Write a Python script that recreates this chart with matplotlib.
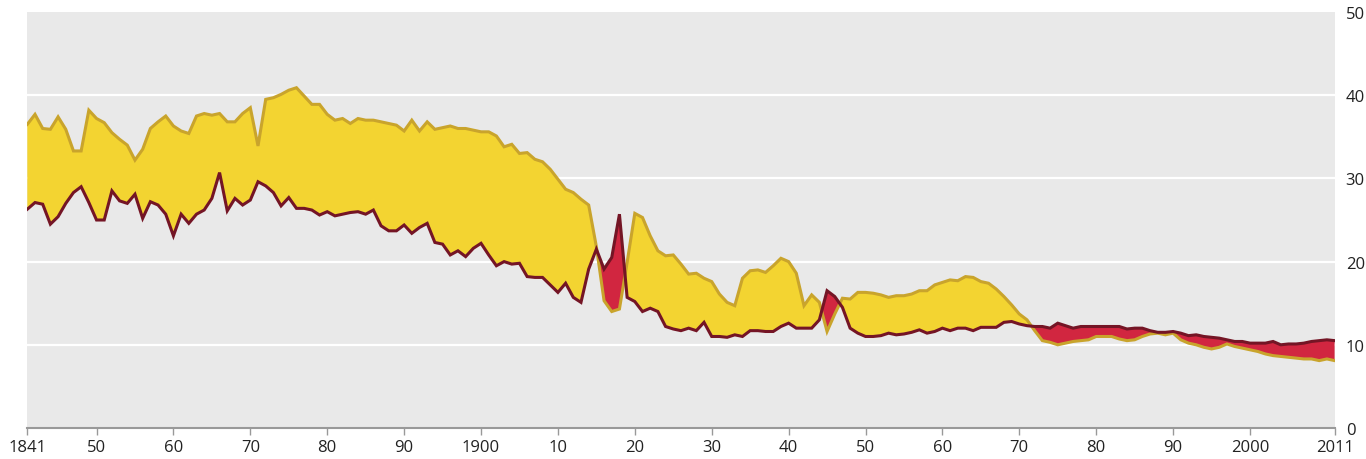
import matplotlib
matplotlib.use('Agg')
import matplotlib.pyplot as plt
import numpy as np

# birth and death rates per 1,000 people
years = np.arange(1841, 2012)

births = [
    36.5, 37.7, 36.0, 35.9, 37.4, 35.9, 33.3, 33.3, 38.2, 37.2,   # 1841-1850
    36.7, 35.5, 34.7, 34.0, 32.2, 33.5, 36.0, 36.8, 37.5, 36.3,   # 1851-1860
    35.7, 35.4, 37.5, 37.8, 37.6, 37.8, 36.8, 36.8, 37.8, 38.5,   # 1861-1870
    33.9, 39.5, 39.7, 40.1, 40.6, 40.9, 39.9, 38.9, 38.9, 37.7,   # 1871-1880
    37.0, 37.2, 36.6, 37.2, 37.0, 37.0, 36.8, 36.6, 36.4, 35.7,   # 1881-1890
    37.0, 35.7, 36.8, 35.9, 36.1, 36.3, 36.0, 36.0, 35.8, 35.6,   # 1891-1900
    35.6, 35.1, 33.8, 34.1, 33.0, 33.1, 32.3, 32.0, 31.1, 29.9,   # 1901-1910
    28.7, 28.3, 27.5, 26.8, 21.8, 15.3, 14.0, 14.3, 19.9, 25.8,   # 1911-1920
    25.3, 23.1, 21.3, 20.7, 20.8, 19.7, 18.5, 18.6, 18.0, 17.6,   # 1921-1930
    16.1, 15.1, 14.7, 18.0, 18.9, 19.0, 18.7, 19.5, 20.4, 20.0,   # 1931-1940
    18.6, 14.7, 16.0, 15.1, 11.6, 13.7, 15.6, 15.5, 16.3, 16.3,   # 1941-1950
    16.2, 16.0, 15.7, 15.9, 15.9, 16.1, 16.5, 16.5, 17.2, 17.5,   # 1951-1960
    17.8, 17.7, 18.2, 18.1, 17.6, 17.4, 16.7, 15.8, 14.8, 13.7,   # 1961-1970
    13.0, 11.7, 10.5, 10.3, 10.0, 10.2, 10.4, 10.5, 10.6, 11.0,   # 1971-1980
    11.0, 11.0, 10.7, 10.5, 10.6, 11.0, 11.3, 11.4, 11.2, 11.4,   # 1981-1990
    10.6, 10.2, 10.0, 9.7, 9.5, 9.7, 10.1, 9.8, 9.6, 9.4,         # 1991-2000
    9.2, 8.9, 8.7, 8.6, 8.5, 8.4, 8.3, 8.3, 8.1, 8.3, 8.1,        # 2001-2011
]

deaths = [
    26.3, 27.1, 26.9, 24.5, 25.4, 27.0, 28.3, 29.0, 27.1, 25.0,   # 1841-1850
    25.0, 28.5, 27.3, 27.0, 28.1, 25.2, 27.2, 26.8, 25.7, 23.1,   # 1851-1860
    25.7, 24.6, 25.7, 26.2, 27.6, 30.7, 26.1, 27.6, 26.8, 27.4,   # 1861-1870
    29.6, 29.1, 28.3, 26.7, 27.7, 26.4, 26.4, 26.2, 25.6, 26.0,   # 1871-1880
    25.5, 25.7, 25.9, 26.0, 25.7, 26.2, 24.3, 23.7, 23.7, 24.4,   # 1881-1890
    23.4, 24.1, 24.6, 22.3, 22.1, 20.8, 21.3, 20.6, 21.6, 22.2,   # 1891-1900
    20.8, 19.5, 20.0, 19.7, 19.8, 18.2, 18.1, 18.1, 17.2, 16.3,   # 1901-1910
    17.4, 15.7, 15.1, 19.1, 21.5, 19.1, 20.5, 25.7, 15.7, 15.2,   # 1911-1920
    14.0, 14.4, 14.0, 12.2, 11.9, 11.7, 12.0, 11.7, 12.7, 11.0,   # 1921-1930
    11.0, 10.9, 11.2, 11.0, 11.7, 11.7, 11.6, 11.6, 12.2, 12.6,   # 1931-1940
    12.0, 12.0, 12.0, 13.0, 16.5, 15.8, 14.5, 12.0, 11.4, 11.0,   # 1941-1950
    11.0, 11.1, 11.4, 11.2, 11.3, 11.5, 11.8, 11.4, 11.6, 12.0,   # 1951-1960
    11.7, 12.0, 12.0, 11.7, 12.1, 12.1, 12.1, 12.7, 12.8, 12.5,   # 1961-1970
    12.3, 12.2, 12.2, 12.0, 12.6, 12.3, 12.0, 12.2, 12.2, 12.2,   # 1971-1980
    12.2, 12.2, 12.2, 11.9, 12.0, 12.0, 11.7, 11.5, 11.5, 11.6,   # 1981-1990
    11.4, 11.1, 11.2, 11.0, 10.9, 10.8, 10.6, 10.4, 10.4, 10.2,   # 1991-2000
    10.2, 10.2, 10.4, 10.0, 10.1, 10.1, 10.2, 10.4, 10.5, 10.6, 10.5,  # 2001-2011
]

x_ticks = [1841, 1850, 1860, 1870, 1880, 1890, 1900, 1910, 1920, 1930, 1940,
           1950, 1960, 1970, 1980, 1990, 2000, 2011]
x_labels = ['1841', '50', '60', '70', '80', '90', '1900', '10', '20', '30', '40',
            '50', '60', '70', '80', '90', '2000', '2011']
y_ticks = [0, 10, 20, 30, 40, 50]

births = np.array(births)
deaths = np.array(deaths)

plt.rcParams['font.family'] = ['Open Sans', 'DejaVu Sans']

fig = plt.figure(figsize=(13.66, 4.6), dpi=100)
ax = fig.add_axes([0.02, 0.0674, 0.957, 0.9043])
ax.set_facecolor('#e9e9e9')

for v in y_ticks[1:-1]:
    ax.axhline(v, color='white', lw=1.6, zorder=1)

ax.fill_between(years, births, deaths, where=births >= deaths, interpolate=True,
                color='#f3d431', lw=0, zorder=2)
ax.fill_between(years, births, deaths, where=births <= deaths, interpolate=True,
                color='#d12640', lw=0, zorder=2)
ax.plot(years, births, color='#c9a42c', lw=2.2, zorder=3, solid_joinstyle='miter')
ax.plot(years, deaths, color='#741525', lw=2.2, zorder=4, solid_joinstyle='miter')

ax.set_xlim(1841, 2011)
ax.set_ylim(0, 50)
ax.set_xticks(x_ticks)
ax.set_xticklabels(x_labels)
ax.set_yticks(y_ticks)
ax.yaxis.tick_right()
ax.tick_params(axis='y', length=0, pad=8, labelsize=12, colors='#222222')
ax.tick_params(axis='x', length=5, width=1, color='#999999', pad=3,
               labelsize=12, labelcolor='#222222')

for s in ['top', 'left', 'right']:
    ax.spines[s].set_visible(False)
ax.spines['bottom'].set_color('#999999')
ax.spines['bottom'].set_linewidth(1.5)
ax.spines['bottom'].set_zorder(5)

fig.savefig('out.png', dpi=100)
